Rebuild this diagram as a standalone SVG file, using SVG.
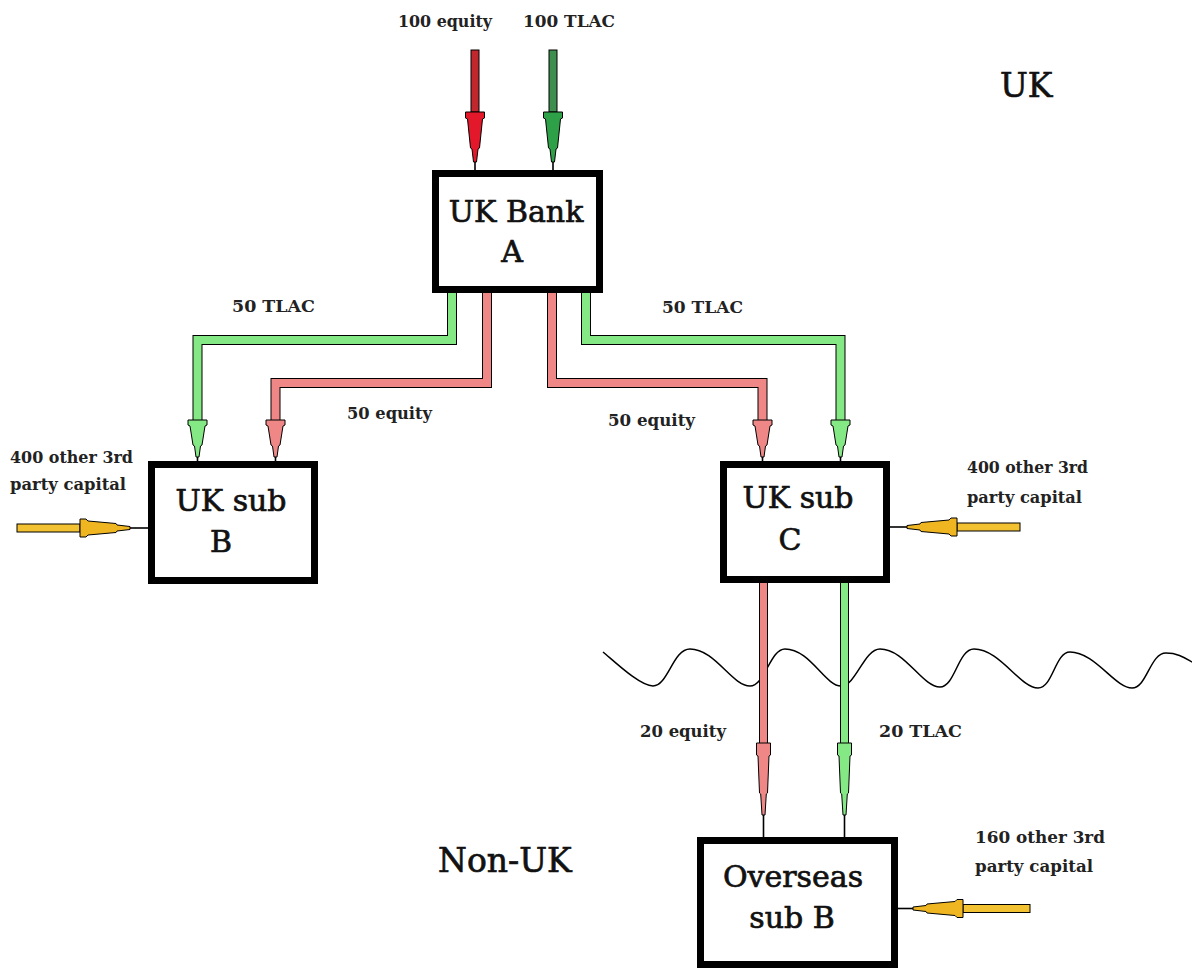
<svg xmlns="http://www.w3.org/2000/svg" xmlns:xlink="http://www.w3.org/1999/xlink" width="1192" height="970" viewBox="0 0 1192 970">
<style>
.box{fill:#fff;stroke:#000;stroke-width:7}
.bt{font-family:"DejaVu Serif","Liberation Serif",serif;font-size:30px;fill:#111;stroke:#111;stroke-width:0.7;text-anchor:middle}
.lb{font-family:"DejaVu Serif","Liberation Serif",serif;font-size:16px;font-weight:bold;fill:#222}
.big{font-family:"DejaVu Serif","Liberation Serif",serif;font-size:33px;fill:#111;stroke:#111;stroke-width:0.7}
.po{fill:none;stroke:#000;stroke-width:10}
.po2{fill:none;stroke:#000;stroke-width:9}
.pg{fill:none;stroke:#84e884;stroke-width:8}
.pr{fill:none;stroke:#ef8787;stroke-width:8}
.pg2{fill:none;stroke:#84e884;stroke-width:7}
.pr2{fill:none;stroke:#ef8787;stroke-width:7}
.ln{stroke:#000;stroke-width:1.6}
.sh{stroke:#000;stroke-width:1}
</style>
<defs>
<path id="hTop" stroke="#000" stroke-width="1" d="M-9.5,0 H9.5 V6 L7.5,7 L4.5,36 L3,37 L1.5,50 H-1.5 L-3,37 L-4.5,36 L-7.5,7 L-9.5,6 Z"/>
<path id="hPipe" stroke="#000" stroke-width="1" d="M-9.5,0 H9.5 V5 L7.5,6 L4.5,25 L3,26 L1.5,37 H-1.5 L-3,26 L-4.5,25 L-7.5,6 L-9.5,5 Z"/>
<path id="hLong" stroke="#000" stroke-width="1" d="M-7,0 H7 V12 L5.5,13 L4,50 L2.8,51 L1.5,72 H-1.5 L-2.8,51 L-4,50 L-5.5,13 L-7,12 Z"/>
<path id="hYel" stroke="#000" stroke-width="1" d="M-9,0 H9 V6 L7,8 L4.5,36 L3,37 L1.5,50 H-1.5 L-3,37 L-4.5,36 L-7,8 L-9,6 Z"/>
</defs>
<rect width="1192" height="970" fill="#fff"/>

<g id="border-wave">
<path fill="none" stroke="#000" stroke-width="1.5" d="M603,652 C615,662 640,686 653,686 C668,686 673,649 690,649 C715,649 732,686 750,686 C765,686 770,649 785,649 C810,649 825,686 841,686 C856,686 864,649 880,649 C905,649 922,687 940,687 C955,687 958,649 974,649 C1000,649 1020,688 1038,688 C1053,688 1055,652 1070,652 C1095,652 1115,688 1132,688 C1147,688 1150,653 1166,653 C1178,653 1185,658 1192,662"/>
</g>

<g id="connectors">
<rect class="sh" x="471" y="50" width="8" height="62" fill="#c0282e"/>
<use xlink:href="#hTop" transform="translate(475,112)" fill="#e3182a"/>
<line class="ln" x1="475" y1="162" x2="475" y2="171"/>
<rect class="sh" x="549" y="50" width="8" height="62" fill="#3e8e50"/>
<use xlink:href="#hTop" transform="translate(553,112)" fill="#2ea048"/>
<line class="ln" x1="553" y1="162" x2="553" y2="171"/>

<path class="po" d="M452,290 V340 H197.5 V420"/>
<path class="pg" d="M452,290 V340 H197.5 V420"/>
<use xlink:href="#hPipe" transform="translate(197.5,420)" fill="#84e884"/>
<line class="ln" x1="197.5" y1="457" x2="197.5" y2="462"/>
<path class="po" d="M487,290 V383 H275.5 V420"/>
<path class="pr" d="M487,290 V383 H275.5 V420"/>
<use xlink:href="#hPipe" transform="translate(275.5,420)" fill="#ef8787"/>
<line class="ln" x1="275.5" y1="457" x2="275.5" y2="462"/>

<path class="po" d="M552,290 V383 H762.5 V420"/>
<path class="pr" d="M552,290 V383 H762.5 V420"/>
<use xlink:href="#hPipe" transform="translate(762.5,420)" fill="#ef8787"/>
<line class="ln" x1="762.5" y1="457" x2="762.5" y2="462"/>
<path class="po" d="M586,290 V340 H840.5 V420"/>
<path class="pg" d="M586,290 V340 H840.5 V420"/>
<use xlink:href="#hPipe" transform="translate(840.5,420)" fill="#84e884"/>
<line class="ln" x1="840.5" y1="457" x2="840.5" y2="462"/>

<path class="po2" d="M763.5,580 V743"/>
<path class="pr2" d="M763.5,580 V743"/>
<use xlink:href="#hLong" transform="translate(763.5,743)" fill="#ef8787"/>
<line class="ln" x1="763.5" y1="815" x2="763.5" y2="838"/>
<path class="po2" d="M844.5,580 V743"/>
<path class="pg2" d="M844.5,580 V743"/>
<use xlink:href="#hLong" transform="translate(844.5,743)" fill="#84e884"/>
<line class="ln" x1="844.5" y1="815" x2="844.5" y2="838"/>

<rect class="sh" x="17" y="524" width="63" height="8" fill="#f2c232"/>
<use xlink:href="#hYel" transform="translate(80,528) rotate(-90)" fill="#f0b622"/>
<line class="ln" x1="130" y1="528" x2="149" y2="528"/>
<rect class="sh" x="957" y="523" width="63" height="8" fill="#f2c232"/>
<use xlink:href="#hYel" transform="translate(957,527) rotate(90)" fill="#f0b622"/>
<line class="ln" x1="907" y1="527" x2="889" y2="527"/>
<rect class="sh" x="963" y="904.5" width="67" height="8" fill="#f2c232"/>
<use xlink:href="#hYel" transform="translate(963,908.5) rotate(90)" fill="#f0b622"/>
<line class="ln" x1="913" y1="908.5" x2="897" y2="908.5"/>

<text class="lb" x="398" y="27" textLength="94" lengthAdjust="spacingAndGlyphs">100 equity</text>
<text class="lb" x="523" y="27" textLength="92" lengthAdjust="spacingAndGlyphs">100 TLAC</text>
<text class="lb" x="232" y="312" textLength="83" lengthAdjust="spacingAndGlyphs">50 TLAC</text>
<text class="lb" x="347" y="419" textLength="85" lengthAdjust="spacingAndGlyphs">50 equity</text>
<text class="lb" x="662" y="313" textLength="81" lengthAdjust="spacingAndGlyphs">50 TLAC</text>
<text class="lb" x="608" y="426" textLength="87" lengthAdjust="spacingAndGlyphs">50 equity</text>
<text class="lb" x="10" y="463" textLength="123" lengthAdjust="spacingAndGlyphs">400 other 3rd</text>
<text class="lb" x="10" y="490" textLength="116" lengthAdjust="spacingAndGlyphs">party capital</text>
<text class="lb" x="967" y="473" textLength="121" lengthAdjust="spacingAndGlyphs">400 other 3rd</text>
<text class="lb" x="967" y="503" textLength="115" lengthAdjust="spacingAndGlyphs">party capital</text>
<text class="lb" x="640" y="737" textLength="86" lengthAdjust="spacingAndGlyphs">20 equity</text>
<text class="lb" x="879" y="737" textLength="83" lengthAdjust="spacingAndGlyphs">20 TLAC</text>
<text class="lb" x="975" y="843" textLength="130" lengthAdjust="spacingAndGlyphs">160 other 3rd</text>
<text class="lb" x="975" y="872" textLength="118" lengthAdjust="spacingAndGlyphs">party capital</text>
</g>

<g id="uk-bank-a">
<rect class="box" x="435.5" y="173.5" width="164" height="116"/>
<text class="bt" x="516" y="222">UK Bank</text>
<text class="bt" x="512" y="262">A</text>
</g>
<g id="uk-sub-b">
<rect class="box" x="151.5" y="464.5" width="163" height="116"/>
<text class="bt" x="231" y="511" font-size="29">UK sub</text>
<text class="bt" x="221" y="552" font-size="29">B</text>
</g>
<g id="uk-sub-c">
<rect class="box" x="723.5" y="464.5" width="163" height="115"/>
<text class="bt" x="798" y="508" font-size="29">UK sub</text>
<text class="bt" x="790" y="550" font-size="29">C</text>
</g>
<g id="overseas-sub-b">
<rect class="box" x="700.5" y="840.5" width="194" height="124"/>
<text class="bt" x="793" y="887" font-size="27">Overseas</text>
<text class="bt" x="792" y="928" font-size="27">sub B</text>
</g>

<g id="region-labels">
<text class="big" x="1000" y="97">UK</text>
<text class="big" x="438" y="872">Non-UK</text>
</g>
</svg>
